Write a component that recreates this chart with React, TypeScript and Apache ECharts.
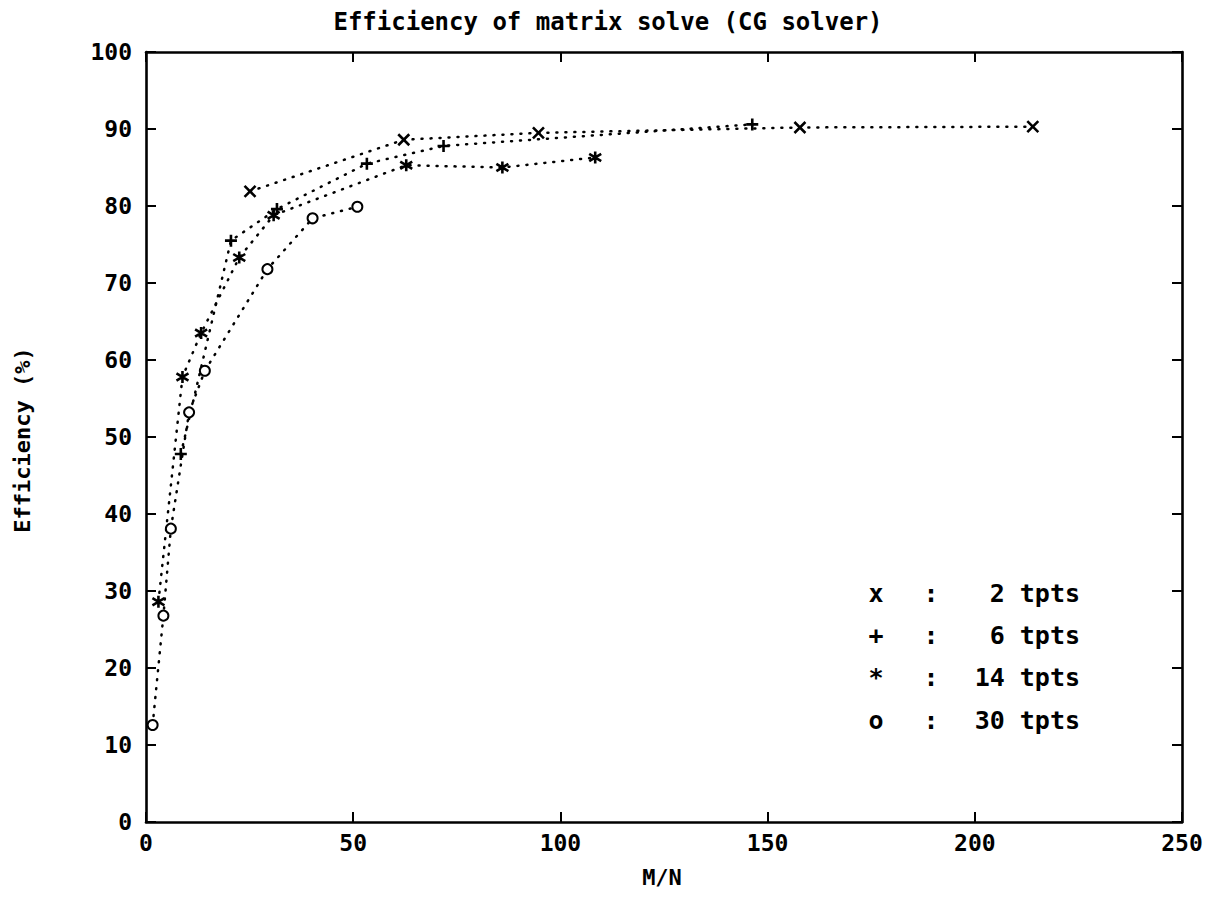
import React, { useEffect, useRef } from "react";
import * as echarts from "echarts";

// M/N (x) and efficiency % (y) for each number of time points
const tpts2X = [25.1, 62.2, 94.7, 157.8, 214.0];
const tpts2Y = [81.9, 88.6, 89.5, 90.2, 90.3];
const tpts6X = [8.4, 20.5, 31.6, 53.3, 71.8, 146.3];
const tpts6Y = [47.8, 75.5, 79.6, 85.5, 87.8, 90.6];
const tpts14X = [3.0, 8.8, 13.3, 22.5, 30.8, 62.8, 86.0, 108.4];
const tpts14Y = [28.6, 57.8, 63.5, 73.3, 78.8, 85.3, 85.0, 86.3];
const tpts30X = [1.6, 4.2, 6.0, 10.4, 14.2, 29.3, 40.2, 51.0];
const tpts30Y = [12.6, 26.8, 38.1, 53.2, 58.6, 71.8, 78.4, 79.9];

const legendSymbols = ["x", "+", "*", "o"];
const legendLabels = ["2 tpts", "6 tpts", "14 tpts", "30 tpts"];

const titleText = "Efficiency of matrix solve (CG solver)";
const xName = "M/N";
const yName = "Efficiency (%)";

const X_MIN = 0, X_MAX = 250, X_STEP = 50;
const Y_MIN = 0, Y_MAX = 100, Y_STEP = 10;

const FONT = '"DejaVu Sans Mono", "Liberation Mono", monospace';

const zip = (xs: number[], ys: number[]) => xs.map((x, i) => [x, ys[i]]);

export default function App() {
  const ref = useRef<HTMLDivElement | null>(null);

  useEffect(() => {
    if (!ref.current) return;
    const chart = echarts.init(ref.current, null, { renderer: "svg" });

    const lineStyle = { color: "#000", width: 2.5, type: [1, 8], cap: "round" };
    const markerStyle = { color: "#000", borderColor: "#000", borderWidth: 2.6 };

    const mkSeries = (name: string, xs: number[], ys: number[], symbol: string, size: number) => ({
      name,
      type: "line",
      xAxisIndex: 0,
      yAxisIndex: 0,
      data: zip(xs, ys),
      symbol,
      symbolSize: size,
      showAllSymbol: true,
      lineStyle,
      itemStyle: markerStyle,
      z: 3,
    });

    const axisCommon = {
      axisLine: { show: true, onZero: false, lineStyle: { color: "#000", width: 2.6 } },
      axisTick: { show: true, inside: true, length: 10, lineStyle: { color: "#000", width: 2 } },
      splitLine: { show: false },
    };

    const labelStyle = { color: "#000", fontFamily: FONT, fontWeight: "bold", fontSize: 23 };

    const txt = (text: string, size: number, align: string) => ({
      text,
      font: `bold ${size}px ${FONT}`,
      fill: "#000",
      align,
      verticalAlign: "middle",
      textAlign: align,
      textVerticalAlign: "middle",
    });

    const legendGraphics: any[] = [];
    const legendY0 = 593, legendDy = 42.4;
    legendSymbols.forEach((s, i) => {
      const y = legendY0 + i * legendDy;
      legendGraphics.push(
        { type: "text", x: 876, y, style: txt(s, 25, "center") },
        { type: "text", x: 931, y, style: txt(":", 25, "center") },
        { type: "text", x: 1080, y, style: txt(legendLabels[i], 25, "right") }
      );
    });

    chart.setOption({
      animation: false,
      backgroundColor: "#fff",
      grid: { left: 146, right: 36, top: 52, bottom: 96, containLabel: false, outerBoundsMode: "none" },
      xAxis: [
        {
          type: "value", min: X_MIN, max: X_MAX, interval: X_STEP, position: "bottom",
          ...axisCommon,
          axisLabel: { ...labelStyle, margin: 9 },
        },
        {
          type: "value", min: X_MIN, max: X_MAX, interval: X_STEP, position: "top",
          ...axisCommon,
          axisLabel: { show: false },
        },
      ],
      yAxis: [
        {
          type: "value", min: Y_MIN, max: Y_MAX, interval: Y_STEP, position: "left",
          ...axisCommon,
          axisLabel: { ...labelStyle, margin: 14 },
        },
        {
          type: "value", min: Y_MIN, max: Y_MAX, interval: Y_STEP, position: "right",
          ...axisCommon,
          axisLabel: { show: false },
        },
      ],
      series: [
        mkSeries("2 tpts", tpts2X, tpts2Y, "path://M0,0L10,10M10,0L0,10", 11),
        mkSeries("6 tpts", tpts6X, tpts6Y, "path://M5,0L5,10M0,5L10,5", 12),
        mkSeries("14 tpts", tpts14X, tpts14Y, "path://M5,0L5,10M0,2L10,8M10,2L0,8", 12),
        {
          ...mkSeries("30 tpts", tpts30X, tpts30Y, "emptyCircle", 10),
          itemStyle: { color: "#000", borderColor: "#000", borderWidth: 2.6 },
        },
      ],
      graphic: [
        { type: "text", x: 608, y: 22, style: txt(titleText, 24, "center") },
        { type: "text", x: 662, y: 877, style: txt(xName, 22, "center") },
        { type: "text", x: 22, y: 440, rotation: Math.PI / 2, style: txt(yName, 22, "center") },
        ...legendGraphics,
      ],
    });

    return () => chart.dispose();
  }, []);

  return (
    <div
      ref={ref}
      style={{ position: "fixed", left: 0, top: 0, width: "1218px", height: "918px", background: "#fff" }}
    />
  );
}
